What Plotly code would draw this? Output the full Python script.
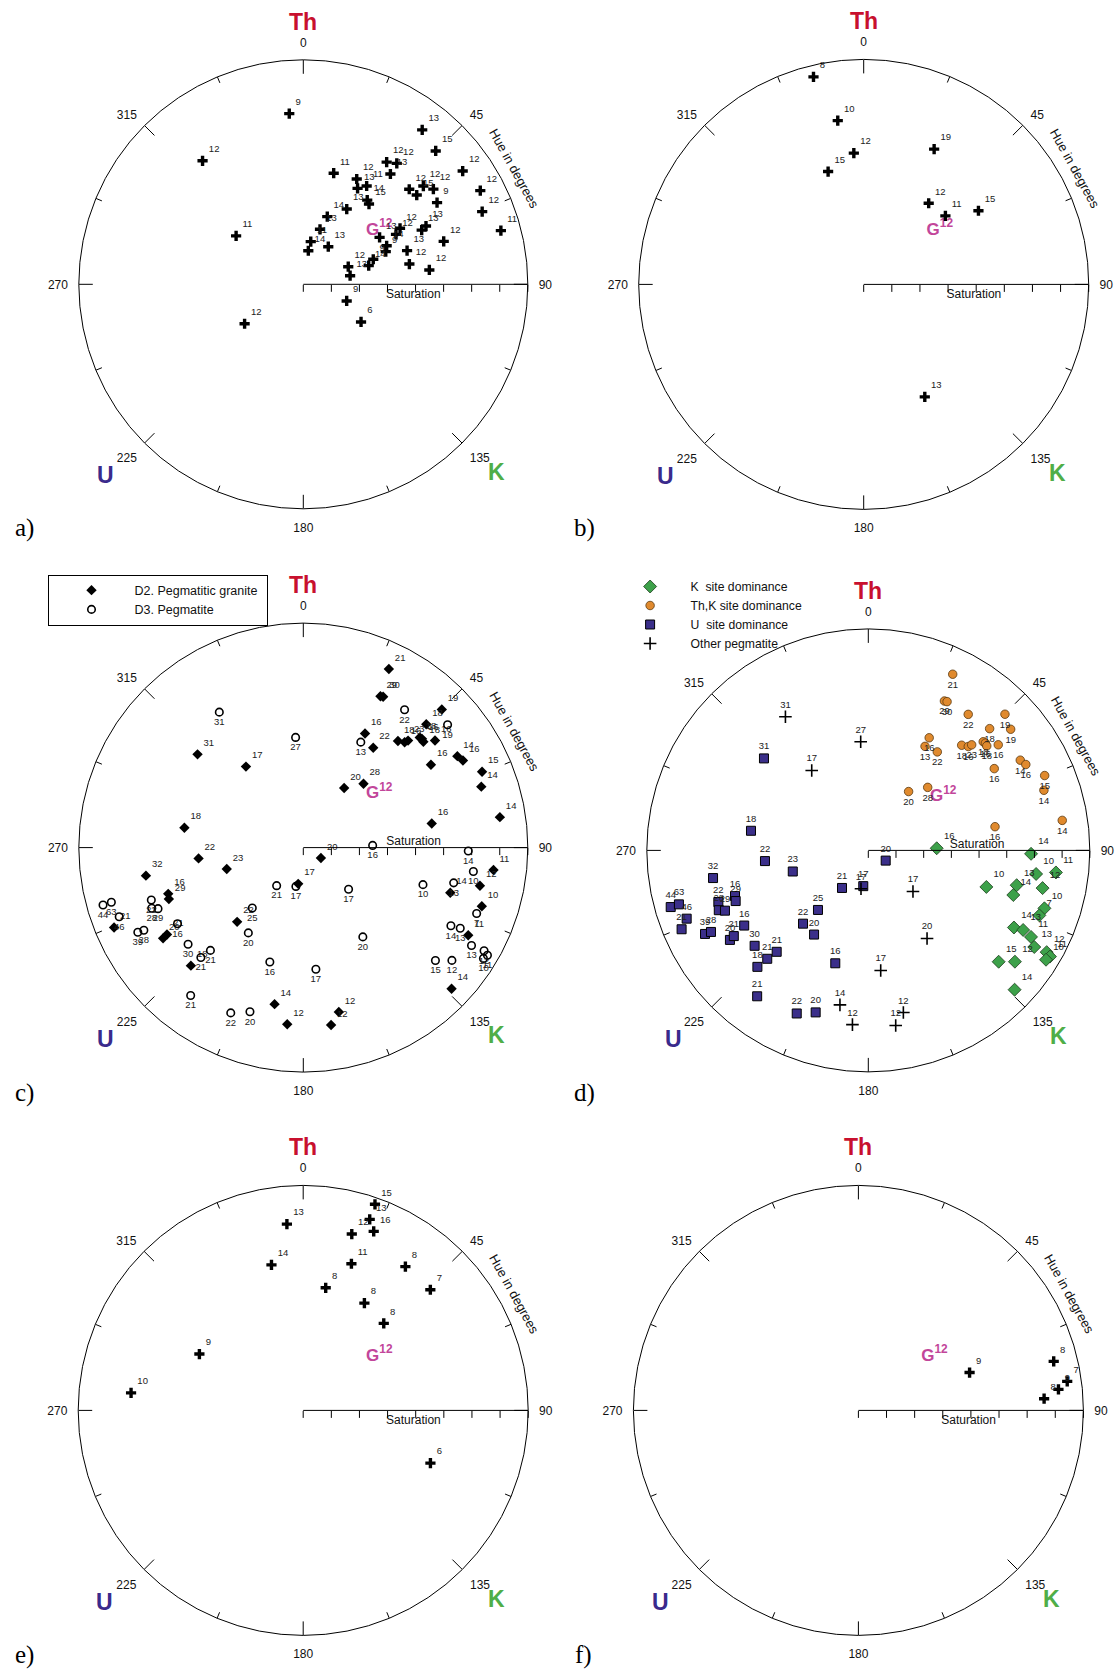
import math
import plotly.graph_objects as go

W, H = 1117, 1670
FONT = "Liberation Sans, Arial, Helvetica, sans-serif"

# ---------------------------------------------------------------
# Data: hue angle (degrees), saturation (0-1) and sample label
# ---------------------------------------------------------------

# a) granite samples
a_hue = [355.3, 320.8, 305.8, 236.1, 111.0, 123.1, 37.6, 44.8, 34.3, 37.7,
         38.3, 15.3, 54.6, 26.9, 29.5, 32.8, 48.1, 51.8, 50.7, 53.8,
         58.6, 62.1, 67.9, 74.8, 37.2, 39.3, 30.0, 19.5, 16.9, 9.9,
         8.5, 33.6, 58.4, 59.9, 61.7, 65.2, 68.4, 70.3, 74.1, 68.6,
         79.6, 65.4, 64.6, 72.0, 79.2, 73.0, 83.5]
a_sat = [0.763, 0.710, 0.369, 0.315, 0.207, 0.307, 0.868, 0.837, 0.659, 0.681,
         0.626, 0.513, 0.871, 0.526, 0.491, 0.521, 0.634, 0.643, 0.691, 0.718,
         0.698, 0.892, 0.860, 0.912, 0.471, 0.462, 0.387, 0.320, 0.256, 0.193,
         0.151, 0.201, 0.399, 0.498, 0.469, 0.409, 0.395, 0.331, 0.303, 0.215,
         0.212, 0.580, 0.605, 0.486, 0.481, 0.654, 0.565]
a_lab = [9, 12, 11, 12, 9, 6, 13, 15, 12, 12,
         13, 11, 12, 12, 13, 11, 12, 15, 12, 12,
         9, 12, 12, 11, 14, 15, 13, 14, 13, 11,
         14, 13, 13, 12, 12, 14, 9, 9, 14, 12,
         13, 13, 13, 13, 12, 12, 12]

# b)
b_hue = [346.4, 351.0, 355.7, 342.5, 27.5, 38.7, 50.0, 57.3, 151.5]
b_sat = [0.949, 0.737, 0.585, 0.526, 0.678, 0.462, 0.474, 0.606, 0.569]
b_lab = [8, 10, 12, 15, 19, 12, 11, 15, 13]

# c) / d) pegmatite samples (shared points, two classifications)
cd_hue = [328.2, 356.0, 324.7, 190.4, 185.2, 190.8, 132.6, 146.3, 174.1, 167.8, 171.1,
          311.4, 279.5, 264.1, 254.4, 259.9, 215.0, 188.0, 251.1, 249.1, 251.0,
          248.2, 247.2, 254.0, 254.1, 249.4, 247.1, 242.9, 242.6, 238.8, 237.1,
          237.5, 230.0, 222.1, 223.0, 223.6, 217.3, 203.7, 198.0, 220.2, 221.7,
          212.8, 196.3, 120.4,
          25.6, 27.0, 27.9, 36.3, 45.1, 49.6, 44.9, 28.4, 28.6, 35.0,
          41.6, 43.9, 44.4, 46.6, 47.5, 48.6, 50.9, 59.3, 61.4, 57.0,
          67.0, 71.1, 81.2, 79.4, 34.4, 43.3,
          88.2, 91.2, 96.7, 98.0, 102.2, 107.2, 103.2, 107.1, 108.2, 110.8,
          117.9, 117.2, 118.0, 120.2, 119.7, 120.3, 121.6, 130.5, 127.2, 133.6]
cd_sat = [0.710, 0.492, 0.442, 0.709, 0.790, 0.176, 0.274, 0.478, 0.545, 0.749, 0.800,
          0.628, 0.537, 0.469, 0.354, 0.712, 0.207, 0.163, 0.636, 0.641, 0.716,
          0.727, 0.702, 0.928, 0.889, 0.876, 0.915, 0.828, 0.800, 0.655, 0.744,
          0.720, 0.670, 0.617, 0.669, 0.726, 0.828, 0.804, 0.769, 0.352, 0.443,
          0.452, 0.531, 0.091,
          0.882, 0.757, 0.760, 0.762, 0.871, 0.844, 0.776, 0.578, 0.535, 0.543,
          0.635, 0.651, 0.667, 0.714, 0.717, 0.713, 0.756, 0.798, 0.810, 0.678,
          0.865, 0.838, 0.886, 0.582, 0.322, 0.391,
          0.309, 0.735, 0.853, 0.765, 0.805, 0.558, 0.688, 0.685, 0.837, 0.826,
          0.744, 0.786, 0.832, 0.867, 0.927, 0.950, 0.942, 0.774, 0.831, 0.912]
cd_lab = [31, 27, 17, 14, 12, 17, 17, 20, 17, 12, 12,
          31, 18, 22, 23, 32, 21, 17, 16, 29, 22,
          28, 29, 44, 63, 46, 21, 39, 28, 16, 20,
          21, 30, 21, 21, 18, 21, 22, 20, 25, 22,
          20, 16, 20,
          21, 29, 30, 22, 19, 19, 18, 16, 13, 22,
          18, 16, 23, 18, 16, 18, 16, 14, 16, 16,
          15, 14, 14, 16, 20, 28,
          16, 14, 11, 10, 12, 10, 13, 14, 10, 7,
          14, 13, 11, 13, 12, 11, 10, 15, 12, 14]
cd_rock = ["D3", "D3", "D2", "D2", "D2", "D3", "D3", "D3", "D3", "D2", "D2",
           "D2", "D2", "D2", "D2", "D2", "D3", "D2", "D2", "D2", "D3",
           "D3", "D3", "D3", "D3", "D3", "D2", "D3", "D3", "D3", "D2",
           "D2", "D3", "D3", "D3", "D2", "D3", "D3", "D3", "D3", "D2",
           "D3", "D3", "D2",
           "D2", "D2", "D2", "D3", "D2", "D3", "D2", "D2", "D3", "D2",
           "D2", "D2", "D2", "D2", "D2", "D2", "D2", "D2", "D2", "D2",
           "D2", "D2", "D2", "D2", "D2", "D2",
           "D3", "D3", "D2", "D3", "D2", "D3", "D3", "D2", "D2", "D3",
           "D3", "D3", "D2", "D3", "D3", "D3", "D3", "D3", "D3", "D2"]
cd_site = (["Other"] * 11) + (["U"] * 33) + (["ThK"] * 26) + (["K"] * 20)

# e)
e_hue = [19.2, 19.2, 15.4, 21.5, 355.0, 347.7, 18.2, 35.4, 10.4, 29.7,
         46.5, 42.8, 298.5, 275.8, 112.5]
e_sat = [0.970, 0.899, 0.813, 0.855, 0.831, 0.662, 0.686, 0.784, 0.554, 0.549,
         0.779, 0.527, 0.525, 0.769, 0.612]
e_lab = [15, 13, 12, 16, 13, 14, 11, 8, 8, 8, 7, 8, 9, 10, 6]

# f)
f_hue = [71.2, 75.9, 82.1, 84.0, 86.4]
f_sat = [0.522, 0.895, 0.937, 0.894, 0.827]
f_lab = [9, 8, 7, 9, 8]

# granite reference point
g_hue = [54.6]
g_sat = [0.415]

hue_ticks = [0, 45, 90, 135, 180, 225, 270, 315]

# ---------------------------------------------------------------
# Panel geometry (pixels): centre x, centre y, radius
# ---------------------------------------------------------------
GEOM = {
    "a": (303.3, 284.3, 224.5),
    "b": (863.7, 284.4, 225.0),
    "c": (303.3, 847.6, 224.5),
    "d": (868.3, 850.4, 221.5),
    "e": (303.2, 1410.4, 225.0),
    "f": (858.4, 1410.4, 225.0),
}
POLAR = {"a": "polar", "b": "polar2", "c": "polar3",
         "d": "polar4", "e": "polar5", "f": "polar6"}

TH_RED = "#c8102e"
U_BLUE = "#3a2a8c"
K_GREEN = "#4fae48"
G_PINK = "#c2469a"

fig = go.Figure()


def frame(key):
    sub = POLAR[key]
    R = GEOM[key][2]
    # hue ticks drawn inward from the rim: long every 45 deg, short between
    r, th = [], []
    for h in hue_ticks:
        r += [1.0, 1.0 - 14.0 / R, None, 1.0, 1.0 - 6.5 / R, None]
        th += [h, h, h, h + 22.5, h + 22.5, h + 22.5]
    fig.add_trace(go.Scatterpolar(
        r=r, theta=th, mode="lines", subplot=sub,
        line=dict(color="black", width=1), connectgaps=False,
        showlegend=False, hoverinfo="skip"))
    # saturation axis caption (below the axis, or above it in c and d)
    above = key in ("c", "d")
    fig.add_trace(go.Scatterpolar(
        r=[0.492], theta=[87.0 if above else 95.5], mode="text", subplot=sub,
        text=["Saturation"], textposition="middle center",
        textfont=dict(family=FONT, size=12, color="#111"),
        showlegend=False, hoverinfo="skip", cliponaxis=False))
    # granite reference "G"
    fig.add_trace(go.Scatterpolar(
        r=g_sat, theta=g_hue, mode="text", subplot=sub,
        text=["<b>G<sup>12</sup></b>"], textposition="middle center",
        textfont=dict(family=FONT, size=17, color=G_PINK),
        showlegend=False, hoverinfo="skip", cliponaxis=False))


def crosses(key, hue, sat, lab):
    fig.add_trace(go.Scatterpolar(
        r=sat, theta=hue, mode="markers+text", subplot=POLAR[key],
        text=[str(v) for v in lab], textposition="top right",
        textfont=dict(family=FONT, size=9.5, color="#222"),
        marker=dict(symbol="cross", size=8.5, color="black",
                    line=dict(width=0)),
        showlegend=False, cliponaxis=False))


def pick(values, mask):
    return [v for v, m in zip(values, mask) if m]


for k in GEOM:
    frame(k)

crosses("a", a_hue, a_sat, a_lab)
crosses("b", b_hue, b_sat, b_lab)
crosses("e", e_hue, e_sat, e_lab)
crosses("f", f_hue, f_sat, f_lab)

# c) by rock unit
rock_style = {
    "D2": dict(name="D2. Pegmatitic granite\u00a0",
               marker=dict(symbol="diamond", size=8, color="black"),
               textposition="top right"),
    "D3": dict(name="D3. Pegmatite",
               marker=dict(symbol="circle-open", size=7.5, color="black",
                           line=dict(width=1.6, color="black")),
               textposition="bottom center"),
}
for rock, st in rock_style.items():
    m = [x == rock for x in cd_rock]
    fig.add_trace(go.Scatterpolar(
        r=pick(cd_sat, m), theta=pick(cd_hue, m), mode="markers+text",
        subplot=POLAR["c"], name=st["name"], legend="legend",
        text=[str(v) for v in pick(cd_lab, m)], textposition=st["textposition"],
        textfont=dict(family=FONT, size=9.5, color="#222"),
        marker=st["marker"], cliponaxis=False))

# d) by site dominance
site_style = {
    "K": dict(name="K\u00a0 site dominance",
              marker=dict(symbol="diamond", size=10, color="#3da14a",
                          line=dict(width=0.8, color="#1d3d1d")),
              textposition="top right"),
    "ThK": dict(name="Th,K site dominance",
                marker=dict(symbol="circle", size=8.5, color="#e08a2e",
                            line=dict(width=0.8, color="#5a3a10")),
                textposition="bottom center"),
    "U": dict(name="U\u00a0 site dominance",
              marker=dict(symbol="square", size=9, color="#3b2f8a",
                          line=dict(width=1, color="black")),
              textposition="top center"),
    "Other": dict(name="Other pegmatite",
                  marker=dict(symbol="cross-thin", size=9, color="black",
                              line=dict(width=1.6, color="black")),
                  textposition="top center"),
}
for site, st in site_style.items():
    m = [x == site for x in cd_site]
    fig.add_trace(go.Scatterpolar(
        r=pick(cd_sat, m), theta=pick(cd_hue, m), mode="markers+text",
        subplot=POLAR["d"], name=st["name"], legend="legend2",
        text=[str(v) for v in pick(cd_lab, m)], textposition=st["textposition"],
        textfont=dict(family=FONT, size=9.5, color="#222"),
        marker=st["marker"], cliponaxis=False))


def polar_layout(cx, cy, R):
    return dict(
        domain=dict(x=[(cx - R) / W, (cx + R) / W],
                    y=[1 - (cy + R) / H, 1 - (cy - R) / H]),
        bgcolor="white",
        angularaxis=dict(
            rotation=90, direction="clockwise",
            tickmode="array", tickvals=hue_ticks,
            ticktext=[str(v) for v in hue_ticks],
            # invisible outer ticks only push the labels off the rim
            ticks="outside", ticklen=8, tickwidth=1,
            tickcolor="rgba(0,0,0,0)",
            showgrid=False, showline=True, linecolor="black", linewidth=1,
            tickfont=dict(family=FONT, size=12, color="#111")),
        radialaxis=dict(
            range=[0, 1], angle=0, side="clockwise", showgrid=False,
            showline=True, linecolor="black", linewidth=1,
            ticks="outside", ticklen=7, tickwidth=1, tickcolor="black",
            tickmode="linear", tick0=0, dtick=0.125,
            showticklabels=False),
    )


layout_polars = {POLAR[k]: polar_layout(*GEOM[k]) for k in GEOM}


def at(key, hue, rr):
    cx, cy, R = GEOM[key]
    t = math.radians(hue)
    return (cx + rr * R * math.sin(t)) / W, 1 - (cy - rr * R * math.cos(t)) / H


annotations = []
for k in GEOM:
    for txt, hue, rr, col in (("Th", 0, 1.17, TH_RED),
                              ("K", 134.2, 1.20, K_GREEN),
                              ("U", 226.0, 1.225, U_BLUE)):
        x, y = at(k, hue, rr)
        annotations.append(dict(
            x=x, y=y, xref="paper", yref="paper", text=f"<b>{txt}</b>",
            showarrow=False, xanchor="center", yanchor="middle",
            font=dict(family=FONT, size=23, color=col)))
    x, y = at(k, 61.2, 1.072)
    annotations.append(dict(
        x=x, y=y, xref="paper", yref="paper", text="Hue in degrees",
        showarrow=False, textangle=61, xanchor="center", yanchor="middle",
        font=dict(family=FONT, size=13, color="#111")))

letters = {"a": (24, 528), "b": (584, 528), "c": (24, 1093),
           "d": (584, 1093), "e": (24, 1655), "f": (583, 1655)}
for k, (px, py) in letters.items():
    annotations.append(dict(
        x=px / W, y=1 - py / H, xref="paper", yref="paper", text=f"{k})",
        showarrow=False, xanchor="center", yanchor="middle",
        font=dict(family="Liberation Serif, Times New Roman, serif",
                  size=25, color="black")))

fig.update_layout(
    width=W, height=H,
    margin=dict(l=0, r=0, t=0, b=0),
    paper_bgcolor="white", plot_bgcolor="white",
    font=dict(family=FONT, color="#111"),
    showlegend=True,
    annotations=annotations,
    legend=dict(
        x=47.5 / W, y=1 - 574.5 / H, xanchor="left", yanchor="top",
        bgcolor="white", bordercolor="black", borderwidth=1,
        font=dict(family=FONT, size=12.5, color="#111"),
        itemsizing="trace", itemwidth=76, tracegroupgap=0),
    legend2=dict(
        x=609.6 / W, y=1 - 572 / H, xanchor="left", yanchor="top",
        bgcolor="rgba(0,0,0,0)", borderwidth=0,
        font=dict(family=FONT, size=12.2, color="#111"),
        itemsizing="trace", itemwidth=71, tracegroupgap=0),
    **layout_polars,
)

fig.write_html("out.html")
